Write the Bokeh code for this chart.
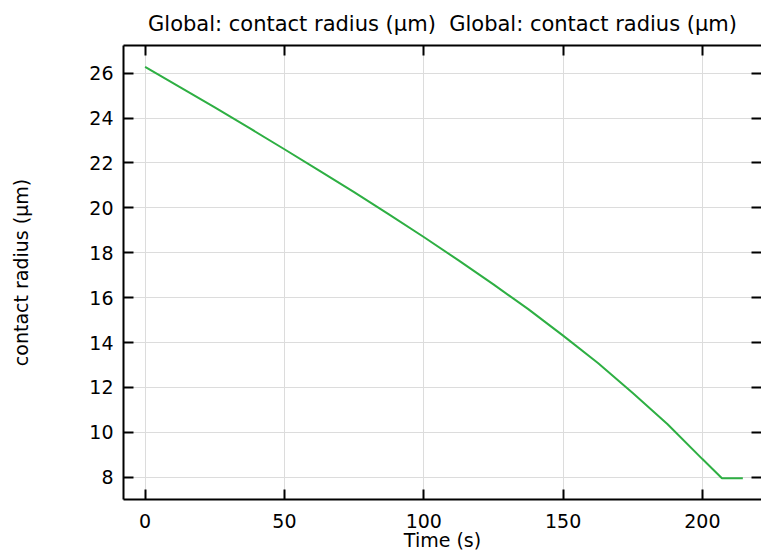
from bokeh.plotting import figure
from bokeh.models import Range1d, LinearAxis, FixedTicker, CustomJSTickFormatter
from bokeh.embed import file_html
from bokeh.resources import INLINE

# data
time_s = [0, 12.5, 25, 37.5, 50, 62.5, 75, 87.5, 100, 112.5, 125, 137.5, 150, 162.5, 175, 187.5, 200, 207, 214.5]
radius_um = [26.28, 25.38, 24.47, 23.55, 22.61, 21.66, 20.70, 19.71, 18.70, 17.66, 16.59, 15.49,
             14.31, 13.09, 11.75, 10.36, 8.81, 7.96, 7.96]
x_ticks = [0, 50, 100, 150, 200]
y_ticks = [8, 10, 12, 14, 16, 18, 20, 22, 24, 26]

title_text = "Global: contact radius (\u00b5m)\u00a0 Global: contact radius (\u00b5m)"
FONT = "DejaVu Sans"

p = figure(width=761, height=557, output_backend="svg", toolbar_location=None,
           x_range=Range1d(-7.75, 221.2), y_range=Range1d(7.01, 27.23),
           x_axis_location=None, y_axis_location=None,
           min_border_left=123, min_border_right=0, min_border_top=44, min_border_bottom=58,
           title=title_text)
p.outline_line_color = None
p.background_fill_color = "white"
p.border_fill_color = "white"

p.title.text_font = FONT
p.title.text_font_size = "21px"
p.title.text_font_style = "normal"
p.title.align = "center"
p.title.text_color = "black"
p.title.standoff = 19

def style(ax, labels=True, line=True):
    ax.major_tick_in = 10
    ax.major_tick_out = 0
    ax.minor_tick_line_color = None
    ax.major_tick_line_width = 2
    ax.major_tick_line_color = "black"
    ax.axis_line_width = 2
    ax.axis_line_color = "black" if line else None
    ax.major_label_text_font = FONT
    ax.major_label_text_font_size = "19px"
    ax.major_label_text_color = "black"
    ax.axis_label_text_font = FONT
    ax.axis_label_text_font_size = "19px"
    ax.axis_label_text_font_style = "normal"
    ax.axis_label_text_color = "black"
    if not labels:
        ax.formatter = CustomJSTickFormatter(code="return ''")
        ax.major_label_standoff = 0

xt = FixedTicker(ticks=x_ticks)
yt = FixedTicker(ticks=y_ticks)

bottom = LinearAxis(ticker=xt, axis_label="Time (s)")
style(bottom)
bottom.major_label_standoff = 14
bottom.axis_label_standoff = -2
p.add_layout(bottom, "below")

left = LinearAxis(ticker=yt, axis_label="contact radius (\u00b5m)")
style(left)
left.major_label_standoff = 10
left.axis_label_standoff = 54
p.add_layout(left, "left")

top = LinearAxis(ticker=xt)
style(top, labels=False)
p.add_layout(top, "above")

right = LinearAxis(ticker=yt)
style(right, labels=False, line=False)
p.add_layout(right, "right")

p.xgrid.ticker = xt
p.ygrid.ticker = yt
p.grid.grid_line_color = "#dcdcdc"
p.grid.grid_line_width = 1

p.line(time_s, radius_um, line_color="#2eaf43", line_width=2)

open("out.html", "w").write(file_html(p, INLINE))
